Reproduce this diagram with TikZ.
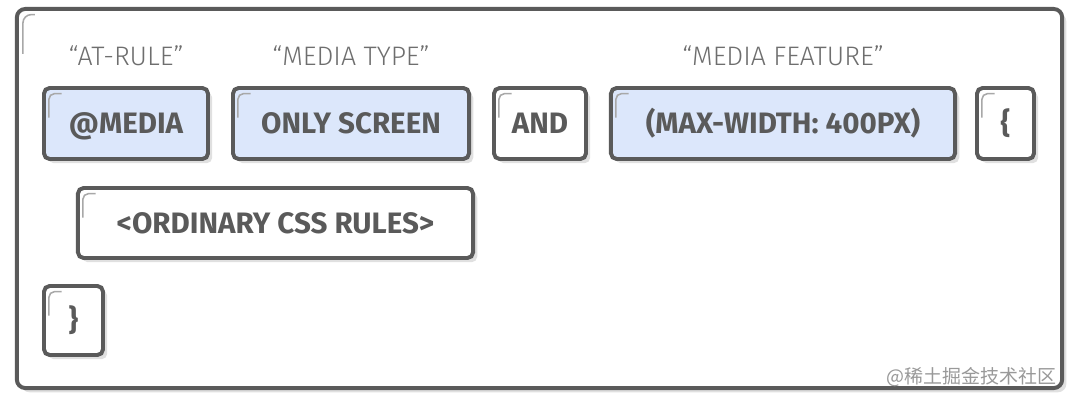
\documentclass[tikz,border=0pt]{standalone}
\usepackage{fontspec}
\setmainfont{Fira Sans}
\newfontfamily\thinfont{Fira Sans Light}
\newfontfamily\cjk{Noto Sans CJK SC}
\usetikzlibrary{shadows, calc}

\definecolor{edge}{HTML}{5A5A5A}
\definecolor{query}{HTML}{DCE7FB}
\definecolor{tickgray}{HTML}{A8A8A8}
\definecolor{caption}{HTML}{6E6E6E}

\tikzset{
  tick/.style={draw=tickgray, line width=1.1pt},
  shade/.style={drop shadow={shadow xshift=3pt, shadow yshift=-3pt, fill=black!12, opacity=1}},
  token/.style={draw=edge, line width=2.8pt, rounded corners=4pt, fill=white, text=edge,
    font=\bfseries\fontsize{21}{21}\selectfont, text height=14.5pt, text depth=0pt,
    minimum height=1.775cm, inner sep=0pt, shade,
    path picture={\draw[tick] ($(path picture bounding box.north west)+(3.5pt,-21pt)$) -- ++(0,17pt) -- ++(9pt,0);}},
  query/.style={token, fill=query},
  frame/.style={draw=edge, line width=2.8pt, rounded corners=6pt, fill=white, inner sep=0pt, shade,
    path picture={\draw[tick] ($(path picture bounding box.north west)+(4.3pt,-32pt)$) -- ++(0,28pt) -- ++(8.5pt,0);}},
  caption/.style={text=caption, font=\thinfont\fontsize{19}{19}\selectfont},
}

\begin{document}
\begin{tikzpicture}[x=0.025cm, y=-0.025cm]
    \useasboundingbox[fill=white] (0,0) rectangle (1078,402);

    % outer frame
    \node[frame, minimum width=26.125cm, minimum height=9.475cm] (page) at (539.5,198.5) {};

    % captions
    \node[caption] (atrule) at (126,56) {“AT-RULE”};
    \node[caption] (mtype) at (351,56) {“MEDIA TYPE”};
    \node[caption] (mfeature) at (783,56) {“MEDIA FEATURE”};

    % query line
    \node[query, minimum width=4.1cm] (media) at (126,123.5) {@MEDIA};
    \node[query, minimum width=5.9cm] (screen) at (351,123.5) {ONLY SCREEN};
    \node[token, minimum width=2.3cm] (and) at (540,123.5) {AND};
    \node[query, minimum width=8.6cm] (feature) at (783,123.5) {(MAX-WIDTH: 400PX)};
    \node[token, minimum width=1.425cm] (open) at (1005.5,123.5) {\{};

    % body
    \node[token, minimum width=9.875cm, minimum height=1.75cm] (rules) at (275.5,223) {<ORDINARY CSS RULES>};
    \node[token, minimum width=1.475cm, minimum height=1.725cm] (close) at (73.5,320.5) {\}};

    \node[anchor=east, text=black!40, font=\cjk\fontsize{13.5}{13.5}\selectfont] (mark) at (1061,377) {@稀土掘金技术社区};
\end{tikzpicture}
\end{document}
